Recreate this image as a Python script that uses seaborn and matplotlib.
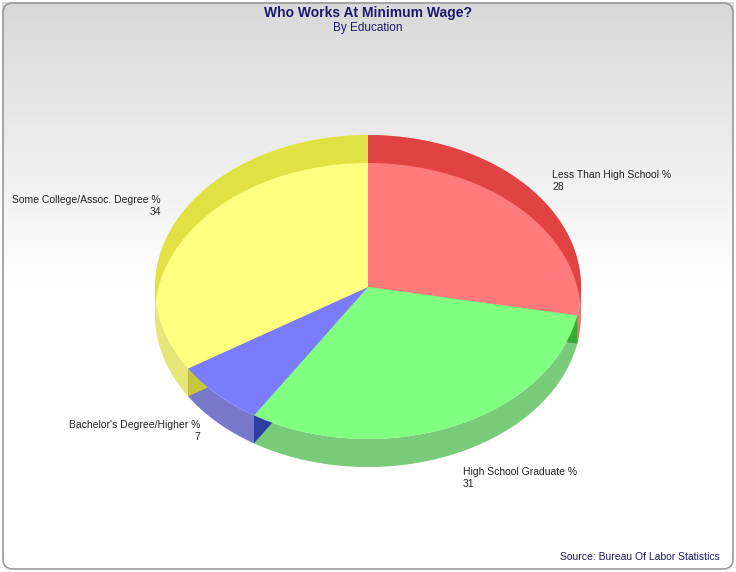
import numpy as np
import matplotlib
matplotlib.use("Agg")
import matplotlib.pyplot as plt
import seaborn as sns
from matplotlib.patches import Polygon, FancyBboxPatch

sns.set_theme(style="white")
plt.rcParams['font.family'] = ['Liberation Sans', 'DejaVu Sans']

categories = ["Less Than High School %", "High School Graduate %", "Bachelor's Degree/Higher %", "Some College/Assoc. Degree %"]
values = [28, 31, 7, 34]
top_colors = ["#ff7b7b", "#80ff80", "#7b7bff", "#ffff80"]
side_colors = ["#d83030", "#30b030", "#3030b0", "#d8d830"]

fig = plt.figure(figsize=(7.36, 5.72), dpi=100)
ax = fig.add_axes([0, 0, 1, 1])
ax.set_xlim(0, 736); ax.set_ylim(572, 0); ax.axis("off")

g = np.linspace(0, 1, 200)[:, None]
shade = np.clip(0.85 + 0.3 * g, 0, 1)
img = np.repeat(shade[:, :, None], 3, axis=2)
ax.imshow(img, extent=[2, 734, 570, 2], aspect="auto", zorder=0)
ax.add_patch(FancyBboxPatch((3, 3), 730, 566, boxstyle="round,pad=0,rounding_size=10",
                            fill=False, ec="#999999", lw=1.2, zorder=1))

cx, cy, rx, ry, dep = 368, 287, 213, 152, 28
def pt(t, d=0, r=1.0):
    return (cx + r * rx * np.sin(t), cy - r * ry * np.cos(t) + d)

fr = np.cumsum([0] + values) / sum(values) * 2 * np.pi
for i in range(len(values)):
    a0, a1 = fr[i], fr[i + 1]
    ts = np.linspace(a0, a1, 100)
    tsv = ts[np.cos(ts) < 0.05]
    if len(tsv) > 1:
        poly = [pt(t) for t in tsv] + [pt(t, dep) for t in tsv[::-1]]
        ax.add_patch(Polygon(poly, closed=True, fc=side_colors[i], ec="none", alpha=0.65, zorder=2))
    for a in (a0, a1):
        poly = [pt(a, 0, 0), pt(a), pt(a, dep), pt(a, dep, 0)]
        ax.add_patch(Polygon(poly, closed=True, fc=side_colors[i], ec="none", alpha=0.9, zorder=2))
for i in range(len(values)):
    ts = np.linspace(fr[i], fr[i + 1], 100)
    poly = [(cx, cy)] + [pt(t) for t in ts]
    ax.add_patch(Polygon(poly, closed=True, fc=top_colors[i], ec="none", zorder=3))
    tb = ts[np.cos(ts) > 0]
    if len(tb) > 1:
        rim = [pt(t) for t in tb] + [pt(t, dep) for t in tb[::-1]]
        ax.add_patch(Polygon(rim, closed=True, fc=side_colors[i], ec="none", alpha=0.75, zorder=3))

kw = dict(fontsize=7.5, color="#222222", zorder=5, va="top")
ax.text(552, 170, f"{categories[0]}\n{values[0]}", ha="left", **kw)
ax.text(463, 467, f"{categories[1]}\n{values[1]}", ha="left", **kw)
ax.text(200, 420, f"{categories[2]}\n{values[2]}", ha="right", multialignment="right", **kw)
ax.text(161, 195, f"{categories[3]}\n{values[3]}", ha="right", multialignment="right", **kw)

ax.text(368, 13, "Who Works At Minimum Wage?", ha="center", va="center", fontsize=10,
        fontweight="bold", color="#1a1a6e", zorder=5)
ax.text(368, 28, "By Education", ha="center", va="center", fontsize=8.5, color="#1a1a6e", zorder=5)
ax.text(720, 557, "Source: Bureau Of Labor Statistics", ha="right", va="center", fontsize=7.5,
        color="#1a1a6e", zorder=5)

fig.savefig("out.png", dpi=100)
